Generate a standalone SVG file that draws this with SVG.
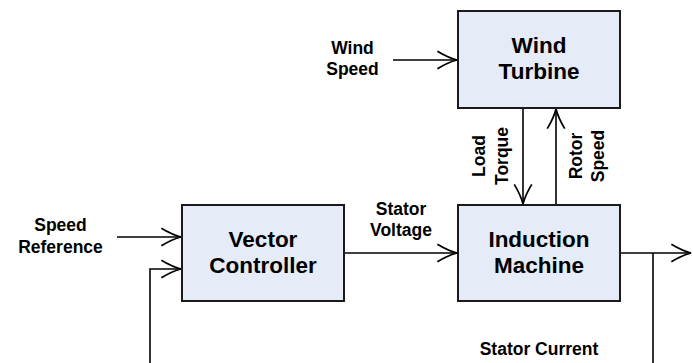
<svg xmlns="http://www.w3.org/2000/svg" width="693" height="363" viewBox="0 0 693 363">
<style>
.box{fill:#E5EBF7;stroke:#1a1a1a;stroke-width:2}
.big{font-family:"Liberation Sans",Arial,sans-serif;font-weight:bold;font-size:22.5px;text-anchor:middle;fill:#000}
.lbl{font-family:"Liberation Sans",Arial,sans-serif;font-weight:bold;font-size:17.5px;text-anchor:middle;fill:#000}
.ln{fill:none;stroke:#000;stroke-width:1.6}
</style>
<defs>
<marker id="arr" markerUnits="userSpaceOnUse" markerWidth="24" markerHeight="24" viewBox="-20 -10 22 20" refX="0" refY="0" orient="auto">
<path d="M-18,-8 Q-8,-2 0,0 Q-8,2 -18,8" fill="none" stroke="#000" stroke-width="1.6"/>
</marker>
</defs>
<g id="connectors">
<path class="ln" d="M393,60 H457" marker-end="url(#arr)"/>
<path class="ln" d="M523,108 V204" marker-end="url(#arr)"/>
<path class="ln" d="M556,205 V109" marker-end="url(#arr)"/>
<path class="ln" d="M117,237 H181" marker-end="url(#arr)"/>
<path class="ln" d="M150,363 V269 H181" marker-end="url(#arr)"/>
<path class="ln" d="M344,253 H457" marker-end="url(#arr)"/>
<path class="ln" d="M620,253 H691" marker-end="url(#arr)"/>
<path class="ln" d="M653,253 V363"/>
</g>
<g id="wind-turbine">
<rect class="box" x="458" y="11" width="162" height="97"/>
<text class="big" x="539" y="53">Wind</text>
<text class="big" x="539" y="79">Turbine</text>
</g>
<g id="vector-controller">
<rect class="box" x="182" y="205" width="162" height="96"/>
<text class="big" x="263" y="247">Vector</text>
<text class="big" x="263" y="273">Controller</text>
</g>
<g id="induction-machine">
<rect class="box" x="458" y="205" width="162" height="96"/>
<text class="big" x="539" y="247">Induction</text>
<text class="big" x="539" y="273">Machine</text>
</g>
<g id="labels">
<text class="lbl" x="352.5" y="54">Wind</text>
<text class="lbl" x="352.5" y="75">Speed</text>
<text class="lbl" x="60.5" y="231">Speed</text>
<text class="lbl" x="60.5" y="253">Reference</text>
<text class="lbl" x="401" y="215">Stator</text>
<text class="lbl" x="401" y="236">Voltage</text>
<text class="lbl" x="539" y="355">Stator Current</text>
<text class="lbl" transform="translate(484.5,156) rotate(-90)">Load</text>
<text class="lbl" transform="translate(507.5,156) rotate(-90)">Torque</text>
<text class="lbl" transform="translate(582,156) rotate(-90)">Rotor</text>
<text class="lbl" transform="translate(604,156) rotate(-90)">Speed</text>
</g>
</svg>
